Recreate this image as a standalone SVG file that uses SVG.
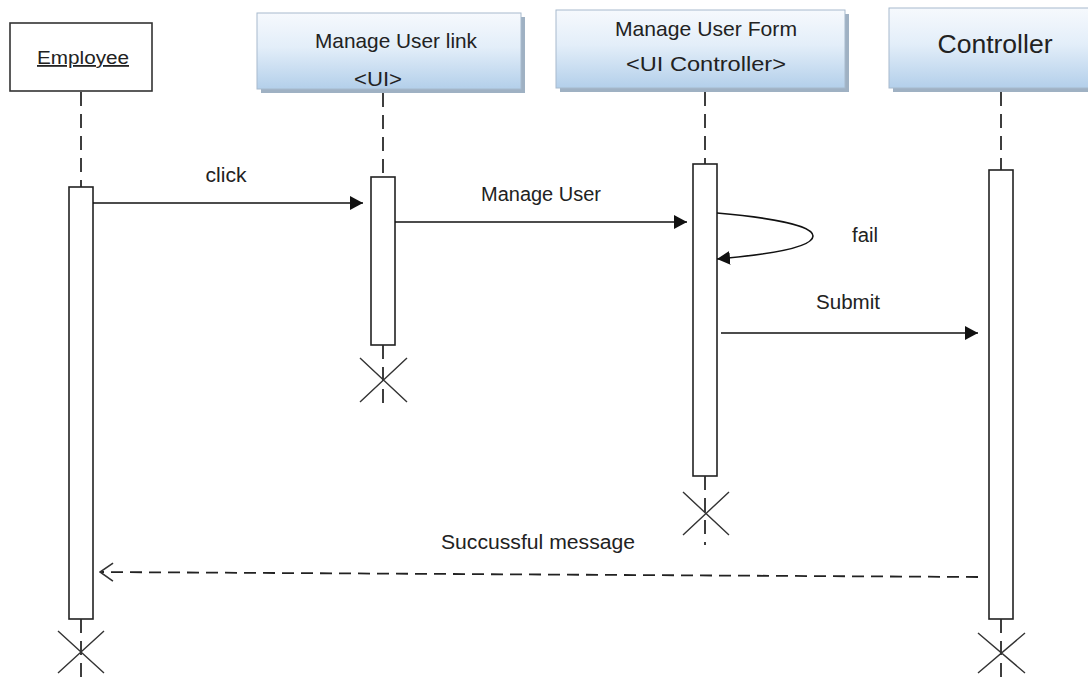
<svg xmlns="http://www.w3.org/2000/svg" width="1088" height="681" viewBox="0 0 1088 681">
  <style>
    .txt { font-family: "Liberation Sans", Arial, sans-serif; fill: #222; }
    .lifeline { stroke: #2a2a2a; stroke-width: 1.8; stroke-dasharray: 14 8; fill: none; }
    .activation { fill: #fff; stroke: #222; stroke-width: 1.6; }
    .destroy { stroke: #333; stroke-width: 1.4; fill: none; }
    .header { fill: url(#headerFill); stroke: #a7bacd; stroke-width: 1; }
    .shadow { fill: #8ea3b9; opacity: 0.85; }
    .msg { stroke: #111; stroke-width: 1.6; fill: none; }
    .reply { stroke: #222; stroke-width: 1.8; stroke-dasharray: 12 7; fill: none; }
  </style>
  <defs>
    <linearGradient id="headerFill" x1="0" y1="0" x2="0" y2="1">
      <stop offset="0" stop-color="#f6f9fd"/>
      <stop offset="0.45" stop-color="#e3eef9"/>
      <stop offset="1" stop-color="#b3cfea"/>
    </linearGradient>
    <marker id="arrowFilled" viewBox="0 0 13 14" refX="13" refY="7" markerWidth="13" markerHeight="14" markerUnits="userSpaceOnUse" orient="auto">
      <path d="M0,0 L13,7 L0,14 z" fill="#111"/>
    </marker>
    <marker id="arrowOpen" viewBox="0 0 15 20" refX="14" refY="10" markerWidth="15" markerHeight="20" markerUnits="userSpaceOnUse" orient="auto">
      <path d="M1,1 L14,10 L1,19" fill="none" stroke="#333" stroke-width="1.6"/>
    </marker>
  </defs>

  <rect width="1088" height="681" fill="#fff"/>

  <!-- Employee actor -->
  <g id="employee">
    <rect x="10" y="23" width="142" height="68" fill="#fff" stroke="#333" stroke-width="1.6"/>
    <text class="txt" x="83" y="64" font-size="18" text-anchor="middle" text-decoration="underline" textLength="92" lengthAdjust="spacingAndGlyphs">Employee</text>
    <line class="lifeline" x1="81" y1="92" x2="81" y2="187"/>
    <rect class="activation" x="69" y="187" width="24" height="432"/>
    <line class="lifeline" x1="81" y1="619" x2="81" y2="681"/>
    <path class="destroy" d="M58,631 L104,673 M104,631 L58,673"/>
  </g>

  <!-- Manage User link <UI> -->
  <g id="manage-user-link">
    <rect class="shadow" x="261" y="17" width="264" height="76"/>
    <rect class="header" x="257" y="13" width="264" height="76"/>
    <text class="txt" x="396" y="48" font-size="21" text-anchor="middle" textLength="162" lengthAdjust="spacingAndGlyphs">Manage User link</text>
    <text class="txt" x="378" y="86" font-size="21" text-anchor="middle" textLength="48" lengthAdjust="spacingAndGlyphs">&lt;UI&gt;</text>
    <line class="lifeline" x1="383" y1="93" x2="383" y2="177"/>
    <rect class="activation" x="371" y="177" width="24" height="168"/>
    <line class="lifeline" x1="383" y1="345" x2="383" y2="408"/>
    <path class="destroy" d="M360,358 L407,402 M407,358 L360,402"/>
  </g>

  <!-- Manage User Form <UI Controller> -->
  <g id="manage-user-form">
    <rect class="shadow" x="560" y="14" width="289" height="78"/>
    <rect class="header" x="556" y="10" width="289" height="78"/>
    <text class="txt" x="706" y="36" font-size="21" text-anchor="middle" textLength="182" lengthAdjust="spacingAndGlyphs">Manage User Form</text>
    <text class="txt" x="706" y="71" font-size="21" text-anchor="middle" textLength="160" lengthAdjust="spacingAndGlyphs">&lt;UI Controller&gt;</text>
    <line class="lifeline" x1="705" y1="92" x2="705" y2="164"/>
    <rect class="activation" x="693" y="164" width="24" height="312"/>
    <line class="lifeline" x1="705" y1="476" x2="705" y2="545"/>
    <path class="destroy" d="M683,492 L729,535 M729,492 L683,535"/>
  </g>

  <!-- Controller -->
  <g id="controller">
    <rect class="shadow" x="893" y="12" width="210" height="80"/>
    <rect class="header" x="889" y="8" width="210" height="80"/>
    <text class="txt" x="995" y="53" font-size="25" text-anchor="middle" textLength="115" lengthAdjust="spacingAndGlyphs">Controller</text>
    <line class="lifeline" x1="1001" y1="92" x2="1001" y2="170"/>
    <rect class="activation" x="989" y="170" width="24" height="449"/>
    <line class="lifeline" x1="1001" y1="619" x2="1001" y2="681"/>
    <path class="destroy" d="M978,633 L1025,673 M1025,633 L978,673"/>
  </g>

  <!-- Messages -->
  <g id="connectors">
    <line class="msg" x1="93" y1="203" x2="363" y2="203" marker-end="url(#arrowFilled)"/>
    <text class="txt" x="226" y="182" font-size="20" text-anchor="middle" textLength="41" lengthAdjust="spacingAndGlyphs">click</text>

    <line class="msg" x1="395" y1="222" x2="687" y2="222" marker-end="url(#arrowFilled)"/>
    <text class="txt" x="541" y="201" font-size="20" text-anchor="middle" textLength="120" lengthAdjust="spacingAndGlyphs">Manage User</text>

    <path class="msg" d="M717,213 C775,218 813,226 813,236 C813,247 775,254 717,259" marker-end="url(#arrowFilled)"/>
    <text class="txt" x="865" y="242" font-size="20" text-anchor="middle" textLength="26" lengthAdjust="spacingAndGlyphs">fail</text>

    <line class="msg" x1="721" y1="333" x2="978" y2="333" marker-end="url(#arrowFilled)"/>
    <text class="txt" x="848" y="309" font-size="20" text-anchor="middle" textLength="64" lengthAdjust="spacingAndGlyphs">Submit</text>

    <line class="reply" x1="978" y1="577" x2="100" y2="572" marker-end="url(#arrowOpen)"/>
    <text class="txt" x="538" y="549" font-size="20" text-anchor="middle" textLength="194" lengthAdjust="spacingAndGlyphs">Succussful message</text>
  </g>
</svg>
